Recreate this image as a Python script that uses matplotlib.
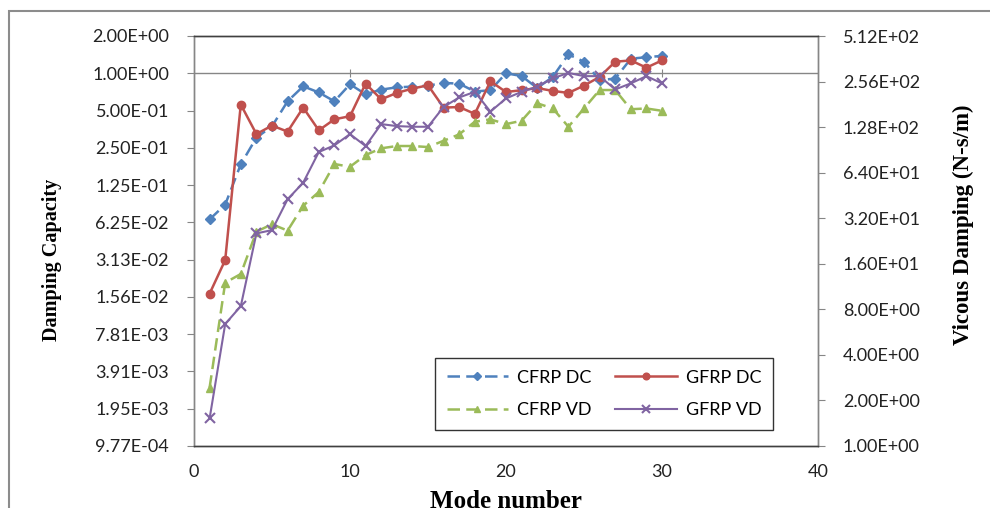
import matplotlib
matplotlib.use("Agg")
import matplotlib.pyplot as plt
from matplotlib.patches import Rectangle
from matplotlib.ticker import FixedLocator, NullLocator

modes = list(range(1, 31))

cfrp_dc = [0.066, 0.087, 0.184, 0.302, 0.373, 0.594, 0.785, 0.70, 0.594, 0.815,
           0.677, 0.738, 0.77, 0.78, 0.795, 0.835, 0.825, 0.712, 0.73, 1.0,
           0.95, 0.76, 0.935, 1.42, 1.24, 0.88, 0.906, 1.31, 1.35, 1.38]
gfrp_dc = [0.0166, 0.031, 0.559, 0.323, 0.378, 0.338, 0.528, 0.346, 0.425, 0.45,
           0.825, 0.616, 0.694, 0.752, 0.80, 0.528, 0.534, 0.47, 0.862, 0.706,
           0.73, 0.76, 0.72, 0.694, 0.795, 0.934, 1.24, 1.27, 1.11, 1.27]
cfrp_vd = [2.43, 12.0, 13.7, 26.1, 29.2, 26.5, 38.7, 47.7, 73.0, 70.0,
           83.7, 92.7, 96.0, 96.0, 94.5, 104, 114.6, 139, 144, 134,
           141, 184, 170, 128.7, 170, 225, 225, 168, 170, 164]
gfrp_vd = [1.52, 6.4, 8.4, 25.4, 26.7, 42.7, 55, 87.6, 97, 115,
           96, 134, 130, 128.7, 128.7, 174, 201, 219, 162, 198,
           219, 237, 269, 292, 278, 278, 227, 249, 278, 249]

left_tick_labels = ["9.77E-04", "1.95E-03", "3.91E-03", "7.81E-03", "1.56E-02",
                    "3.13E-02", "6.25E-02", "1.25E-01", "2.50E-01", "5.00E-01",
                    "1.00E+00", "2.00E+00"]
right_tick_labels = ["1.00E+00", "2.00E+00", "4.00E+00", "8.00E+00", "1.60E+01",
                     "3.20E+01", "6.40E+01", "1.28E+02", "2.56E+02", "5.12E+02"]
x_ticks = [0, 10, 20, 30, 40]

series_names = ["CFRP DC", "GFRP DC", "CFRP VD", "GFRP VD"]

tick_font = "Lato"
serif = "Liberation Serif"

fig = plt.figure(figsize=(9.9, 5.08), dpi=100)
ax = fig.add_axes([194/990, 1 - 446/508, (818-194)/990, (446-36)/508])
ax2 = ax.twinx()

left_vals = [float(s) for s in left_tick_labels]
right_vals = [float(s) for s in right_tick_labels]

ax.set_yscale("log", base=2)
ax2.set_yscale("log", base=2)
ax.set_ylim(2**-10, 2)
ax2.set_ylim(1, 512)
ax.set_xlim(0, 40)

ax.yaxis.set_major_locator(FixedLocator(left_vals))
ax.set_yticklabels(left_tick_labels)
ax.yaxis.set_minor_locator(NullLocator())
ax2.yaxis.set_major_locator(FixedLocator(right_vals))
ax2.set_yticklabels(right_tick_labels)
ax2.yaxis.set_minor_locator(NullLocator())
ax.set_xticks(x_ticks)
ax.set_xticklabels([str(v) for v in x_ticks])

lw = 1.8
dash = (0, (5, 2.5))
l1, = ax.plot(modes, cfrp_dc, color="#4F81BD", lw=lw, linestyle=dash,
              marker="D", markersize=5.5, label=series_names[0])
l2, = ax.plot(modes, gfrp_dc, color="#C0504D", lw=lw, linestyle="-",
              marker="o", markersize=6, label=series_names[1])
l3, = ax2.plot(modes, cfrp_vd, color="#9BBB59", lw=lw, linestyle=dash,
               marker="^", markersize=6, label=series_names[2])
l4, = ax2.plot(modes, gfrp_vd, color="#8064A2", lw=1.5, linestyle="-",
               marker="x", markersize=7, markeredgewidth=1.5, label=series_names[3])

# x axis crossing at 1.0
ax.axhline(1.0, color="#868686", lw=1.0, zorder=1)
sec = ax.secondary_xaxis(1 - 1/11)
sec.set_xticks(x_ticks[1:-1])
sec.tick_params(axis="x", direction="inout", length=6, color="#868686",
                labelbottom=False, labeltop=False)
sec.spines["top"].set_visible(False)
sec.spines["bottom"].set_visible(False)

for a in (ax, ax2):
    a.spines["top"].set_color("#404040")
    a.spines["bottom"].set_color("#404040")
    a.spines["left"].set_color("#868686")
    a.spines["right"].set_color("#868686")
    for s in a.spines.values():
        s.set_linewidth(1.0)

ax.tick_params(axis="y", direction="out", length=5, color="#868686", pad=13,
               labelsize=13, labelcolor="#222222")
ax2.tick_params(axis="y", direction="out", length=5, color="#868686", pad=13,
                labelsize=13, labelcolor="#222222")
ax.tick_params(axis="x", length=0, pad=13, labelsize=13, labelcolor="#222222")
for lab in ax.get_yticklabels() + ax2.get_yticklabels() + ax.get_xticklabels():
    lab.set_fontfamily(tick_font)

fig.text(52/990, 1 - 260/508, "Damping Capacity", rotation=90, ha="center",
         va="center", fontsize=14.5, fontweight="bold", family=serif)
fig.text(963/990, 1 - 225/508, "Vicous Damping (N-s/m)", rotation=90, ha="center",
         va="center", fontsize=16.5, fontweight="bold", family=serif)
fig.text(506/990, 1 - 501/508, "Mode number", ha="center", va="center",
         fontsize=18, fontweight="bold", family=serif)

leg = ax2.legend(handles=[l1, l3, l2, l4], ncol=2, loc="upper left",
                 bbox_to_anchor=((426-194)/624, (446-349)/410),
                 frameon=True, fancybox=False, edgecolor="#000000",
                 prop={"family": tick_font, "size": 13}, handlelength=3.4,
                 columnspacing=1.3, markerscale=0.8, borderpad=0.65,
                 labelspacing=0.9, handletextpad=0.5)
leg.get_frame().set_linewidth(1.0)

fig.patches.append(Rectangle((9/990, -0.2), 1.5, 1.2 - 11/508, transform=fig.transFigure,
                             fill=False, edgecolor="#8c8c8c", lw=1.5))

fig.savefig("out.png", dpi=100)
